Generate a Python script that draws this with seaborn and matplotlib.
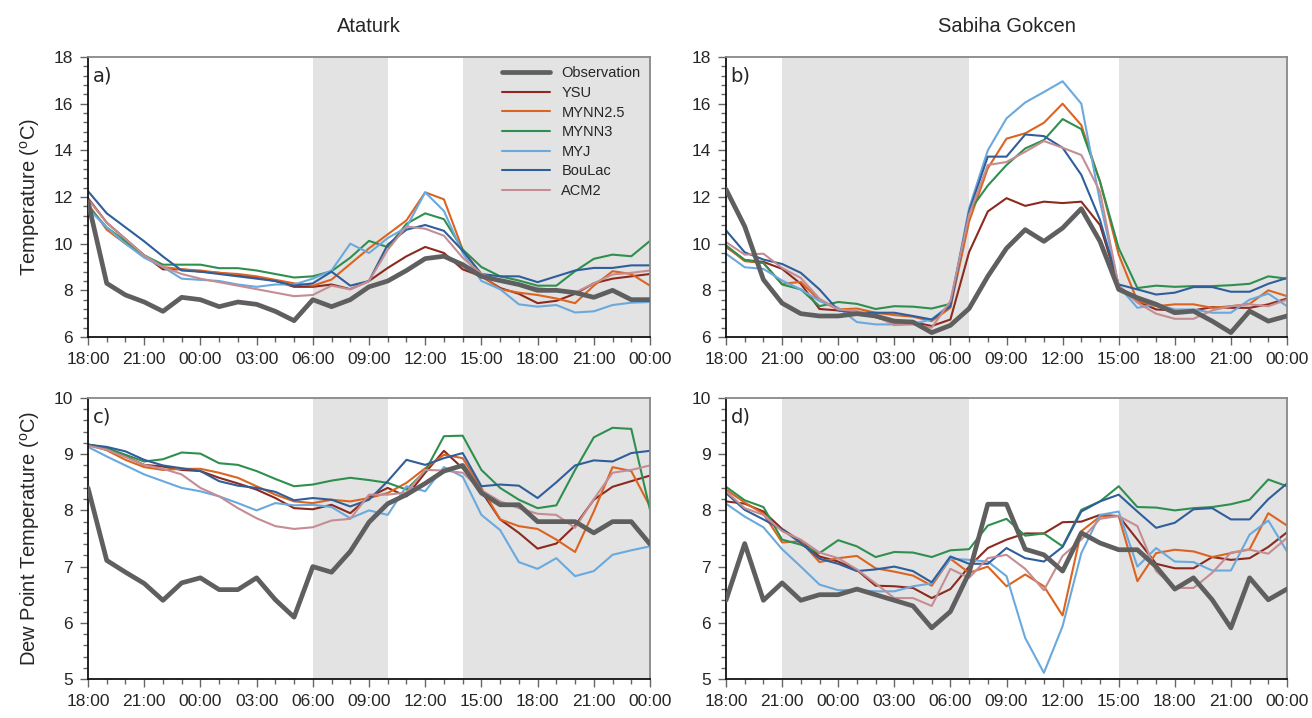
import numpy as np
import pandas as pd
import matplotlib
matplotlib.use("Agg")
import matplotlib.pyplot as plt
from matplotlib.ticker import MultipleLocator
import seaborn as sns

# ---- data: hourly values, 18:00 day 1 to 00:00 day 3 (31 points) ----
hours = list(range(31))
tick_labels = ["18:00", "21:00", "00:00", "03:00", "06:00", "09:00",
               "12:00", "15:00", "18:00", "21:00", "00:00"]
series_names = ["Observation", "YSU", "MYNN2.5", "MYNN3", "MYJ", "BouLac", "ACM2"]
stations = ["Ataturk", "Sabiha Gokcen"]

# Ataturk temperature
ata_t_obs = [11.8, 8.3, 7.8, 7.5, 7.1, 7.7, 7.6, 7.3, 7.5, 7.4, 7.1, 6.7, 7.6, 7.3, 7.6, 8.15,
             8.4, 8.85, 9.36, 9.46, 9.1, 8.6, 8.42, 8.25, 8.0, 8.0, 7.9, 7.7, 8.0, 7.6, 7.6]
ata_t_ysu = [11.95, 10.9, 10.2, 9.5, 8.9, 8.9, 8.8, 8.75, 8.65, 8.55, 8.4, 8.15, 8.15, 8.25, 8.05, 8.4,
             8.96, 9.46, 9.86, 9.6, 8.9, 8.6, 8.1, 7.85, 7.45, 7.55, 7.85, 8.3, 8.5, 8.6, 8.7]
ata_t_mynn25 = [11.7, 10.6, 10.0, 9.5, 9.0, 8.9, 8.85, 8.75, 8.7, 8.6, 8.45, 8.3, 8.2, 8.46, 9.13, 9.8,
                10.4, 11.0, 12.2, 11.9, 9.75, 8.65, 8.05, 7.9, 7.8, 7.65, 7.45, 8.2, 8.82, 8.7, 8.2]
ata_t_mynn3 = [11.6, 10.7, 10.1, 9.5, 9.1, 9.1, 9.1, 8.95, 8.95, 8.85, 8.7, 8.55, 8.6, 8.82, 9.4, 10.12,
               9.85, 10.85, 11.3, 11.05, 9.75, 9.0, 8.6, 8.42, 8.2, 8.2, 8.82, 9.35, 9.53, 9.46, 10.12]
ata_t_myj = [11.5, 10.7, 10.0, 9.4, 9.0, 8.5, 8.45, 8.4, 8.25, 8.15, 8.25, 8.25, 8.5, 8.85, 10.0, 9.6,
             10.24, 10.7, 12.2, 11.4, 9.6, 8.4, 8.05, 7.4, 7.3, 7.37, 7.05, 7.1, 7.37, 7.47, 7.5]
ata_t_boulac = [12.25, 11.3, 10.7, 10.1, 9.45, 8.85, 8.8, 8.7, 8.6, 8.5, 8.4, 8.2, 8.3, 8.8, 8.2, 8.4,
                9.96, 10.6, 10.8, 10.55, 9.7, 8.7, 8.6, 8.6, 8.35, 8.6, 8.85, 8.96, 8.96, 9.07, 9.07]
ata_t_acm2 = [11.9, 10.9, 10.2, 9.5, 9.0, 8.7, 8.5, 8.35, 8.2, 8.05, 7.9, 7.75, 7.8, 8.2, 8.04, 8.4,
              9.74, 10.74, 10.64, 10.34, 9.4, 8.7, 8.4, 8.25, 8.1, 8.0, 7.9, 8.3, 8.68, 8.75, 8.85]

# Sabiha Gokcen temperature
sab_t_obs = [12.33, 10.74, 8.46, 7.45, 7.0, 6.9, 6.9, 7.0, 6.9, 6.68, 6.64, 6.19, 6.5, 7.22, 8.6, 9.8,
             10.6, 10.1, 10.67, 11.5, 10.1, 8.04, 7.68, 7.4, 7.04, 7.11, 6.68, 6.19, 7.11, 6.68, 6.9]
sab_t_ysu = [9.86, 9.3, 9.22, 8.92, 8.28, 7.2, 7.14, 7.04, 6.85, 6.61, 6.64, 6.47, 6.75, 9.64, 11.38, 11.95,
             11.62, 11.8, 11.74, 11.8, 10.8, 8.18, 7.54, 7.18, 7.14, 7.14, 7.28, 7.25, 7.25, 7.4, 7.65]
sab_t_mynn25 = [9.89, 9.25, 9.17, 8.28, 8.36, 7.57, 7.18, 7.22, 7.04, 6.94, 6.87, 6.68, 7.25, 10.95, 13.23, 14.5,
                14.73, 15.18, 16.0, 15.08, 12.66, 9.53, 7.54, 7.32, 7.4, 7.4, 7.25, 7.32, 7.42, 8.0, 7.75]
sab_t_mynn3 = [9.93, 9.3, 9.17, 8.25, 8.04, 7.32, 7.5, 7.42, 7.2, 7.32, 7.3, 7.22, 7.42, 11.38, 12.49, 13.37,
               14.08, 14.44, 15.34, 14.91, 12.66, 9.81, 8.1, 8.2, 8.15, 8.18, 8.18, 8.22, 8.28, 8.6, 8.5]
sab_t_myj = [9.57, 8.99, 8.92, 8.42, 8.04, 7.54, 7.25, 6.64, 6.54, 6.54, 6.57, 6.75, 7.4, 11.52, 14.0, 15.37,
             16.05, 16.5, 16.96, 16.0, 11.8, 8.18, 7.25, 7.4, 7.18, 7.18, 7.04, 7.04, 7.6, 7.86, 7.32]
sab_t_boulac = [10.57, 9.63, 9.32, 9.13, 8.75, 8.04, 7.14, 7.04, 7.04, 7.04, 6.9, 6.75, 7.32, 11.38, 13.73, 13.73,
                14.68, 14.61, 14.11, 12.95, 11.02, 8.25, 8.04, 7.82, 7.9, 8.14, 8.14, 7.94, 7.94, 8.28, 8.53]
sab_t_acm2 = [10.07, 9.53, 9.57, 8.96, 8.53, 7.64, 7.18, 7.11, 6.9, 6.51, 6.54, 6.4, 7.54, 11.24, 13.37, 13.5,
              13.94, 14.4, 14.11, 13.8, 12.23, 8.18, 7.47, 7.0, 6.78, 6.78, 7.14, 7.32, 7.4, 7.32, 7.6]

# Ataturk dew point
ata_d_obs = [8.4, 7.11, 6.9, 6.7, 6.4, 6.71, 6.8, 6.59, 6.59, 6.8, 6.41, 6.1, 7.0, 6.9, 7.27, 7.79,
             8.12, 8.28, 8.48, 8.7, 8.8, 8.31, 8.1, 8.1, 7.8, 7.8, 7.8, 7.6, 7.8, 7.8, 7.4]
ata_d_ysu = [9.17, 9.11, 8.96, 8.81, 8.78, 8.72, 8.7, 8.58, 8.48, 8.37, 8.22, 8.04, 8.02, 8.1, 7.95, 8.24,
             8.4, 8.25, 8.67, 9.06, 8.75, 8.34, 7.84, 7.6, 7.32, 7.41, 7.73, 8.19, 8.42, 8.52, 8.62]
ata_d_mynn25 = [9.17, 9.07, 8.9, 8.77, 8.72, 8.74, 8.74, 8.67, 8.58, 8.43, 8.28, 8.16, 8.13, 8.19, 8.16, 8.22,
                8.31, 8.49, 8.75, 8.99, 8.93, 8.4, 7.84, 7.72, 7.67, 7.48, 7.26, 7.98, 8.77, 8.7, 8.07]
ata_d_mynn3 = [9.17, 9.11, 8.99, 8.87, 8.91, 9.03, 9.01, 8.84, 8.81, 8.7, 8.56, 8.43, 8.46, 8.53, 8.58, 8.54,
               8.49, 8.37, 8.7, 9.32, 9.33, 8.72, 8.4, 8.19, 8.04, 8.09, 8.72, 9.3, 9.47, 9.45, 8.01]
ata_d_myj = [9.13, 8.96, 8.8, 8.64, 8.52, 8.4, 8.34, 8.25, 8.13, 8.0, 8.13, 8.09, 8.1, 8.06, 7.86, 8.0,
             7.92, 8.43, 8.34, 8.77, 8.6, 7.92, 7.65, 7.08, 6.96, 7.15, 6.83, 6.92, 7.21, 7.29, 7.36]
ata_d_boulac = [9.17, 9.13, 9.05, 8.9, 8.8, 8.75, 8.7, 8.52, 8.44, 8.4, 8.33, 8.18, 8.22, 8.19, 8.07, 8.19,
                8.52, 8.9, 8.81, 8.93, 9.02, 8.43, 8.46, 8.44, 8.22, 8.5, 8.8, 8.89, 8.87, 9.02, 9.06]
ata_d_acm2 = [9.15, 9.08, 8.95, 8.81, 8.74, 8.64, 8.4, 8.25, 8.04, 7.86, 7.72, 7.67, 7.7, 7.82, 7.85, 8.28,
              8.28, 8.32, 8.72, 8.71, 8.67, 8.36, 8.16, 8.04, 7.94, 7.92, 7.69, 8.2, 8.67, 8.72, 8.8]

# Sabiha Gokcen dew point
sab_d_obs = [6.4, 7.41, 6.4, 6.71, 6.4, 6.5, 6.5, 6.6, 6.5, 6.4, 6.3, 5.91, 6.2, 6.89, 8.11, 8.11,
             7.31, 7.21, 6.92, 7.6, 7.42, 7.3, 7.3, 7.0, 6.6, 6.8, 6.41, 5.91, 6.8, 6.41, 6.6]
sab_d_ysu = [8.16, 8.12, 7.98, 7.67, 7.45, 7.18, 7.09, 6.94, 6.66, 6.65, 6.62, 6.44, 6.6, 7.0, 7.33, 7.48,
             7.59, 7.59, 7.79, 7.8, 7.92, 7.9, 7.48, 7.05, 6.97, 6.97, 7.17, 7.12, 7.15, 7.35, 7.61]
sab_d_mynn25 = [8.37, 8.14, 7.94, 7.43, 7.45, 7.08, 7.15, 7.19, 6.97, 6.91, 6.84, 6.66, 7.14, 6.89, 7.0, 6.65,
                6.86, 6.65, 6.13, 7.63, 7.89, 7.9, 6.74, 7.24, 7.3, 7.27, 7.17, 7.24, 7.31, 7.95, 7.73]
sab_d_mynn3 = [8.42, 8.18, 8.06, 7.48, 7.39, 7.24, 7.47, 7.36, 7.17, 7.26, 7.25, 7.17, 7.29, 7.31, 7.73, 7.85,
               7.55, 7.59, 7.36, 8.01, 8.16, 8.43, 8.06, 8.05, 8.0, 8.04, 8.06, 8.11, 8.19, 8.55, 8.43]
sab_d_myj = [8.12, 7.89, 7.7, 7.31, 7.0, 6.68, 6.58, 6.58, 6.56, 6.56, 6.65, 6.7, 7.14, 7.12, 7.09, 6.83,
             5.73, 5.11, 5.94, 7.24, 7.92, 7.98, 7.0, 7.33, 7.09, 7.08, 6.93, 6.93, 7.57, 7.82, 7.27]
sab_d_boulac = [8.31, 8.01, 7.84, 7.66, 7.42, 7.14, 7.05, 6.92, 6.95, 7.0, 6.92, 6.72, 7.18, 7.05, 7.05, 7.33,
                7.15, 7.09, 7.35, 7.98, 8.16, 8.28, 7.98, 7.69, 7.78, 8.02, 8.04, 7.84, 7.84, 8.2, 8.48]
sab_d_acm2 = [8.34, 8.04, 7.92, 7.63, 7.48, 7.25, 7.15, 6.95, 6.7, 6.44, 6.44, 6.3, 6.96, 6.8, 7.15, 7.21,
              6.96, 6.58, 7.19, 7.48, 7.85, 7.9, 7.72, 6.92, 6.62, 6.62, 6.89, 7.25, 7.3, 7.23, 7.51]

# night-time (shaded) windows, in hours after 18:00
ata_night = [(12, 16), (20, 30)]
sab_night = [(3, 13), (21, 30)]

# ---- styling ----
colors = {"Observation": "#5f5f5f", "YSU": "#8c2a1f", "MYNN2.5": "#dc6420",
          "MYNN3": "#2f8f4e", "MYJ": "#6aa9dd", "BouLac": "#2f5e9a", "ACM2": "#c48d93"}
widths = {name: 1.5 for name in series_names}
widths["Observation"] = 3.4

sns.set_style("ticks")
plt.rcParams["font.family"] = ["Liberation Sans", "DejaVu Sans"]
plt.rcParams["mathtext.fontset"] = "custom"
plt.rcParams["mathtext.rm"] = "Liberation Sans"

W, H = 1312, 718
fig = plt.figure(figsize=(W / 100, H / 100), dpi=100)


def box(l, t, r, b):
    return [l / W, 1 - b / H, (r - l) / W, (b - t) / H]


panels = [
    dict(pos=box(88, 57, 650, 337), data=[ata_t_obs, ata_t_ysu, ata_t_mynn25, ata_t_mynn3, ata_t_myj, ata_t_boulac, ata_t_acm2],
         night=ata_night, ylim=(6, 18), major=2, minor=0.4, letter="a)", ylabel=r"Temperature ($^{\mathrm{o}}$C)", title=stations[0]),
    dict(pos=box(726, 57, 1287, 337), data=[sab_t_obs, sab_t_ysu, sab_t_mynn25, sab_t_mynn3, sab_t_myj, sab_t_boulac, sab_t_acm2],
         night=sab_night, ylim=(6, 18), major=2, minor=0.4, letter="b)", ylabel=None, title=stations[1]),
    dict(pos=box(88, 398, 650, 679), data=[ata_d_obs, ata_d_ysu, ata_d_mynn25, ata_d_mynn3, ata_d_myj, ata_d_boulac, ata_d_acm2],
         night=ata_night, ylim=(5, 10), major=1, minor=0.2, letter="c)", ylabel=r"Dew Point Temperature ($^{\mathrm{o}}$C)", title=None),
    dict(pos=box(726, 398, 1287, 679), data=[sab_d_obs, sab_d_ysu, sab_d_mynn25, sab_d_mynn3, sab_d_myj, sab_d_boulac, sab_d_acm2],
         night=sab_night, ylim=(5, 10), major=1, minor=0.2, letter="d)", ylabel=None, title=None),
]

for i, p in enumerate(panels):
    ax = fig.add_axes(p["pos"])
    for a, b in p["night"]:
        ax.axvspan(a, b, color="#e3e3e3", lw=0, zorder=0)
    frames = []
    for name, vals in zip(series_names, p["data"]):
        frames.append(pd.DataFrame({"hour": hours, "value": vals, "series": name}))
    df = pd.concat(frames, ignore_index=True)
    # models first, observation on top
    order = series_names[1:] + series_names[:1]
    for name in order:
        sub = df[df["series"] == name]
        sns.lineplot(data=sub, x="hour", y="value", ax=ax, color=colors[name],
                     lw=widths[name], zorder=3 if name == "Observation" else 2, legend=False)
    ax.set_xlim(0, 30)
    ax.set_ylim(*p["ylim"])
    ax.set_xticks(range(0, 31, 3))
    ax.set_xticklabels(tick_labels)
    ax.xaxis.set_minor_locator(MultipleLocator(1))
    ax.yaxis.set_major_locator(MultipleLocator(p["major"]))
    ax.yaxis.set_minor_locator(MultipleLocator(p["minor"]))
    ax.tick_params(axis="both", which="major", length=6, width=1, color="#666666",
                   labelsize=12.5, pad=5, direction="out")
    ax.tick_params(axis="both", which="minor", length=3.5, width=1, color="#666666", direction="out")
    ax.set_xlabel("")
    ax.set_ylabel(p["ylabel"] if p["ylabel"] else "", fontsize=14.5, labelpad=8)
    for s in ["left", "bottom"]:
        ax.spines[s].set_color("#111111")
        ax.spines[s].set_linewidth(1.3)
    for s in ["top", "right"]:
        ax.spines[s].set_color("#888888")
        ax.spines[s].set_linewidth(1.3)
    ax.text(0.008, 0.965, p["letter"], transform=ax.transAxes, ha="left", va="top",
            fontsize=14, family="DejaVu Sans")
    if p["title"]:
        ax.set_title(p["title"], fontsize=14.5, pad=18)
    if i == 0:
        handles, labels = [], []
        for name in series_names:
            handles.append(plt.Line2D([], [], color=colors[name], lw=widths[name]))
            labels.append(name)
        ax.legend(handles, labels, loc="upper right", bbox_to_anchor=(1.0, 1.0),
                  frameon=False, fontsize=10.5, handlelength=3.3, handletextpad=0.75,
                  labelspacing=0.38, borderaxespad=0.25)

fig.savefig("out.png", dpi=100)
